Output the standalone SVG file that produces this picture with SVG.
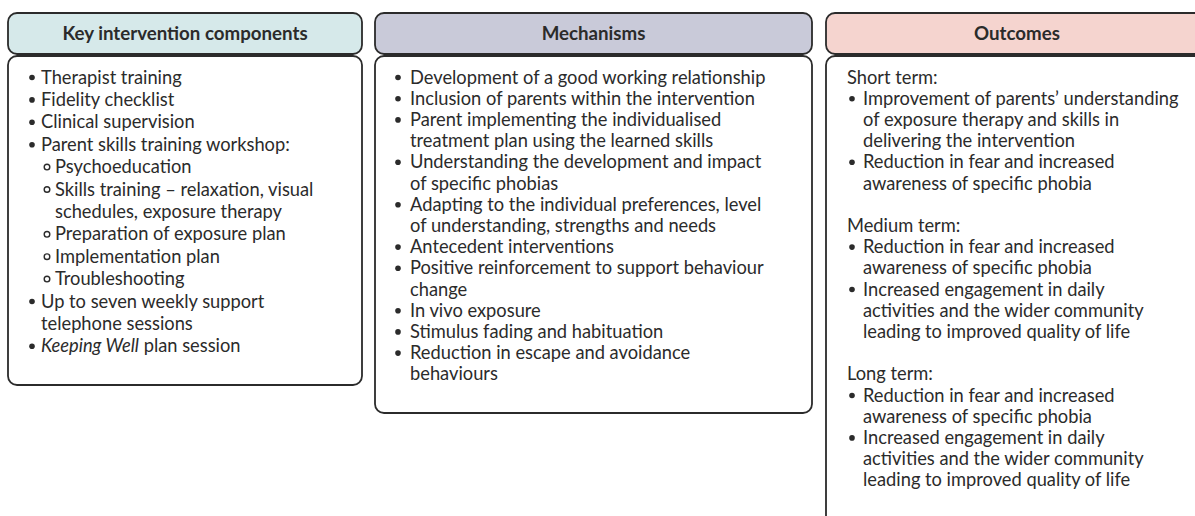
<svg xmlns="http://www.w3.org/2000/svg" width="1195" height="516" viewBox="0 0 1195 516">
  <style>
    .box { fill: #ffffff; stroke: #2b2b2b; stroke-width: 1.8; }
    .hdr { stroke: #2b2b2b; stroke-width: 1.8; }
    .h1 { fill: #d6e9ea; }
    .h2 { fill: #c9cad9; }
    .h3 { fill: #f5d4cf; }
    .title { font-family: Lato, "Liberation Sans", sans-serif; font-weight: bold; font-size: 18.7px; fill: #2b2b2b; text-anchor: middle; }
    .t { font-family: Lato, "Liberation Sans", sans-serif; font-size: 18.3px; fill: #2b2b2b; }
    .dot { fill: #2b2b2b; }
    .ring { fill: none; stroke: #2b2b2b; stroke-width: 1.4; }
  </style>

  <!-- Column 1: key intervention components -->
  <g id="components">
    <rect class="box" x="8" y="56" width="354" height="329" rx="9"/>
    <rect class="hdr h1" x="8" y="13" width="354" height="41" rx="9"/>
    <text class="title" x="185" y="40">Key intervention components</text>
    <circle class="dot" cx="32" cy="77.5" r="2.8"/><text class="t" x="41" y="83.5">Therapist training</text>
    <circle class="dot" cx="32" cy="99.9" r="2.8"/><text class="t" x="41" y="105.9">Fidelity checklist</text>
    <circle class="dot" cx="32" cy="122.3" r="2.8"/><text class="t" x="41" y="128.3">Clinical supervision</text>
    <circle class="dot" cx="32" cy="144.7" r="2.8"/><text class="t" x="41" y="150.7">Parent skills training workshop:</text>
    <circle class="ring" cx="47" cy="167.1" r="2.8"/><text class="t" x="55" y="173.1">Psychoeducation</text>
    <circle class="ring" cx="47" cy="189.5" r="2.8"/><text class="t" x="55" y="195.5">Skills training – relaxation, visual</text>
    <text class="t" x="55" y="217.9">schedules, exposure therapy</text>
    <circle class="ring" cx="47" cy="234.3" r="2.8"/><text class="t" x="55" y="240.3">Preparation of exposure plan</text>
    <circle class="ring" cx="47" cy="256.7" r="2.8"/><text class="t" x="55" y="262.7">Implementation plan</text>
    <circle class="ring" cx="47" cy="279.1" r="2.8"/><text class="t" x="55" y="285.1">Troubleshooting</text>
    <circle class="dot" cx="32" cy="301.5" r="2.8"/><text class="t" x="41" y="307.5">Up to seven weekly support</text>
    <text class="t" x="41" y="329.9">telephone sessions</text>
    <circle class="dot" cx="32" cy="346.3" r="2.8"/><text class="t" x="41" y="352.3"><tspan font-style="italic">Keeping Well</tspan> plan session</text>
  </g>

  <!-- Column 2: mechanisms -->
  <g id="mechanisms">
    <rect class="box" x="375" y="56" width="437" height="357" rx="9"/>
    <rect class="hdr h2" x="375" y="13" width="437" height="41" rx="9"/>
    <text class="title" x="593.5" y="40">Mechanisms</text>
    <circle class="dot" cx="398" cy="77.5" r="2.8"/><text class="t" x="410" y="83.5">Development of a good working relationship</text>
    <circle class="dot" cx="398" cy="98.7" r="2.8"/><text class="t" x="410" y="104.7">Inclusion of parents within the intervention</text>
    <circle class="dot" cx="398" cy="119.9" r="2.8"/><text class="t" x="410" y="125.9">Parent implementing the individualised</text>
    <text class="t" x="410" y="147.1">treatment plan using the learned skills</text>
    <circle class="dot" cx="398" cy="162.3" r="2.8"/><text class="t" x="410" y="168.3">Understanding the development and impact</text>
    <text class="t" x="410" y="189.5">of specific phobias</text>
    <circle class="dot" cx="398" cy="204.7" r="2.8"/><text class="t" x="410" y="210.7">Adapting to the individual preferences, level</text>
    <text class="t" x="410" y="231.9">of understanding, strengths and needs</text>
    <circle class="dot" cx="398" cy="247.1" r="2.8"/><text class="t" x="410" y="253.1">Antecedent interventions</text>
    <circle class="dot" cx="398" cy="268.3" r="2.8"/><text class="t" x="410" y="274.3">Positive reinforcement to support behaviour</text>
    <text class="t" x="410" y="295.5">change</text>
    <circle class="dot" cx="398" cy="310.7" r="2.8"/><text class="t" x="410" y="316.7">In vivo exposure</text>
    <circle class="dot" cx="398" cy="331.9" r="2.8"/><text class="t" x="410" y="337.9">Stimulus fading and habituation</text>
    <circle class="dot" cx="398" cy="353.1" r="2.8"/><text class="t" x="410" y="359.1">Reduction in escape and avoidance</text>
    <text class="t" x="410" y="380.3">behaviours</text>
  </g>

  <!-- Column 3: outcomes (runs past the right and bottom edges) -->
  <g id="outcomes">
    <rect class="box" x="826" y="56" width="400" height="500" rx="9"/>
    <rect class="hdr h3" x="826" y="13" width="382" height="41" rx="9"/>
    <text class="title" x="1017" y="40">Outcomes</text>
    <text class="t" x="847" y="83.5">Short term:</text>
    <circle class="dot" cx="852" cy="98.7" r="2.8"/><text class="t" x="863" y="104.7">Improvement of parents’ understanding</text>
    <text class="t" x="863" y="125.9">of exposure therapy and skills in</text>
    <text class="t" x="863" y="147.1">delivering the intervention</text>
    <circle class="dot" cx="852" cy="162.3" r="2.8"/><text class="t" x="863" y="168.3">Reduction in fear and increased</text>
    <text class="t" x="863" y="189.5">awareness of specific phobia</text>
    <text class="t" x="847" y="231.9">Medium term:</text>
    <circle class="dot" cx="852" cy="247.1" r="2.8"/><text class="t" x="863" y="253.1">Reduction in fear and increased</text>
    <text class="t" x="863" y="274.3">awareness of specific phobia</text>
    <circle class="dot" cx="852" cy="289.5" r="2.8"/><text class="t" x="863" y="295.5">Increased engagement in daily</text>
    <text class="t" x="863" y="316.7">activities and the wider community</text>
    <text class="t" x="863" y="337.9">leading to improved quality of life</text>
    <text class="t" x="847" y="380.3">Long term:</text>
    <circle class="dot" cx="852" cy="395.5" r="2.8"/><text class="t" x="863" y="401.5">Reduction in fear and increased</text>
    <text class="t" x="863" y="422.7">awareness of specific phobia</text>
    <circle class="dot" cx="852" cy="437.9" r="2.8"/><text class="t" x="863" y="443.9">Increased engagement in daily</text>
    <text class="t" x="863" y="465.1">activities and the wider community</text>
    <text class="t" x="863" y="486.3">leading to improved quality of life</text>
  </g>

  <!-- No connectors in this layout -->
  <g id="connectors"/>
</svg>
